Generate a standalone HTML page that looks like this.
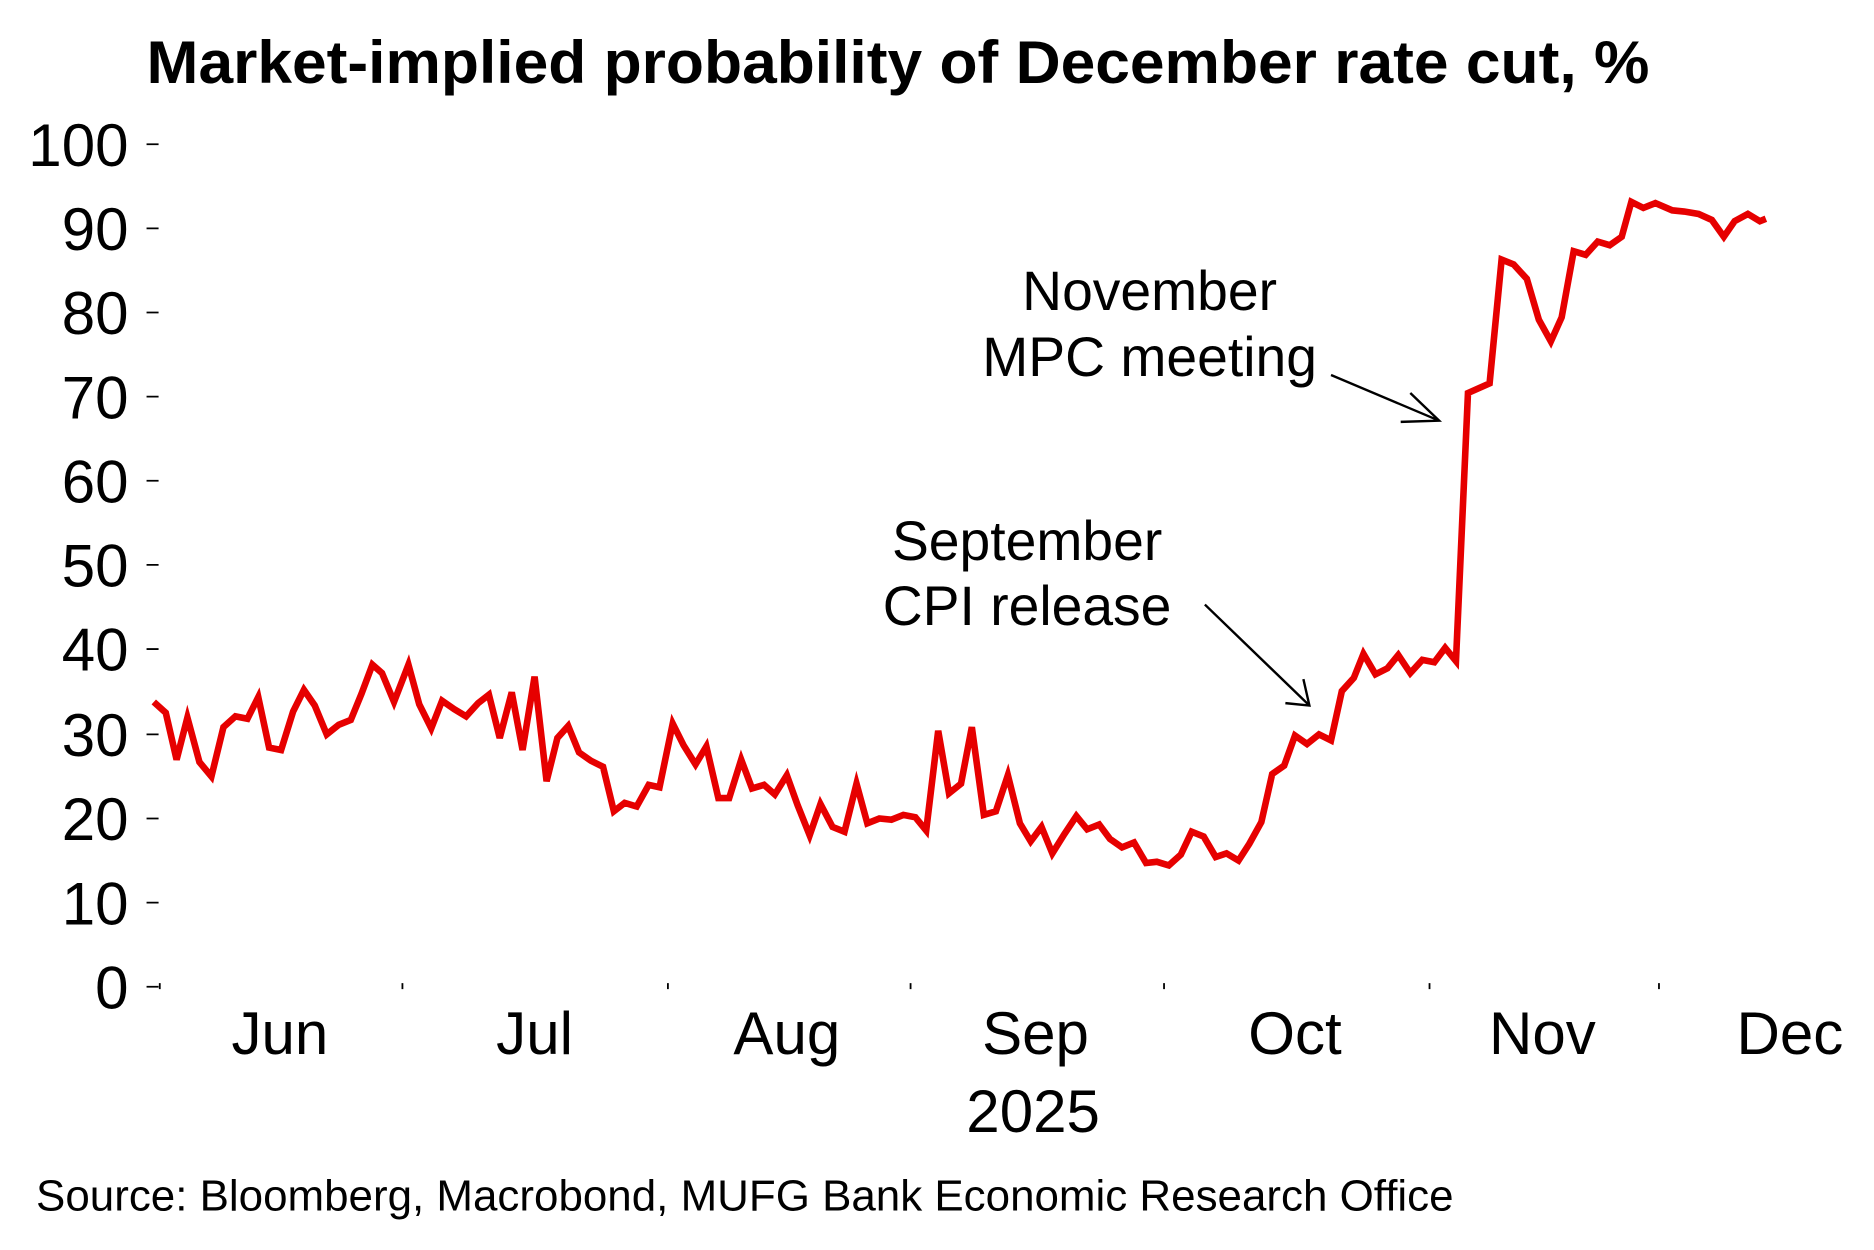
<!DOCTYPE html>
<html><head><style>html,body{margin:0;padding:0;background:#fff;}svg{display:block;}</style></head>
<body>
<svg width="1874" height="1250" viewBox="0 0 1560 1040" preserveAspectRatio="none" xmlns="http://www.w3.org/2000/svg" font-family="Liberation Sans, Arial, sans-serif">
<text x="122" y="69" font-size="50" font-weight="bold" textLength="1251" lengthAdjust="spacingAndGlyphs">Market-implied probability of December rate cut, %</text>
<g font-size="50" text-anchor="end">
<text x="107" y="138">100</text><text x="107" y="208">90</text><text x="107" y="278">80</text><text x="107" y="348">70</text><text x="107" y="418">60</text><text x="107" y="488">50</text><text x="107" y="558">40</text><text x="107" y="629">30</text><text x="107" y="699">20</text><text x="107" y="769">10</text><text x="107" y="839">0</text>
</g>
<g stroke="#000" stroke-width="1.5">
<path d="M122 120h10M122 190h10M122 260h10M122 330h10M122 400h10M122 470h10M122 540h10M122 611h10M122 681h10M122 751h10M122 821h10"/>
<path d="M133 818v5M335 818v5M556 818v5M758 818v5M969 818v5M1190 818v5M1381 818v5"/>
</g>
<g font-size="50" text-anchor="middle">
<text x="233" y="877">Jun</text><text x="445" y="877">Jul</text><text x="655" y="877">Aug</text><text x="862" y="877">Sep</text><text x="1078" y="877">Oct</text><text x="1284" y="877">Nov</text><text x="1490" y="877">Dec</text>
<text x="860" y="942">2025</text>
</g>
<text x="30" y="1007" font-size="36" textLength="1180" lengthAdjust="spacingAndGlyphs">Source: Bloomberg, Macrobond, MUFG Bank Economic Research Office</text>
<g font-size="46" text-anchor="middle">
<text x="957" y="258">November</text><text x="957" y="313">MPC meeting</text>
<text x="855" y="466">September</text><text x="855" y="520">CPI release</text>
</g>
<g stroke="#000" stroke-width="2" fill="none">
<path d="M1108 312L1198 350M1174 327L1198 350L1166 351"/>
<path d="M1003 503L1090 587M1070 585L1090 587L1085 565"/>
</g>
<polyline fill="none" stroke="#e60000" stroke-width="5.5" stroke-linejoin="miter" points="128,584 138,593 147,632 156,597 166,634 176,646 186,605 196,596 206,598 215,580 224,622 234,624 244,592 253,574 262,587 272,611 282,603 292,599 301,577 310,553 318,560 328,584 340,553 349,586 359,606 368,583 378,590 388,596 398,585 407,578 416,614 426,576 435,624 445,563 455,650 464,614 473,604 482,626 492,633 502,638 511,675 520,668 530,671 540,653 549,655 560,602 569,620 579,636 588,621 598,664 607,664 617,632 626,656 636,653 645,661 655,645 664,670 674,695 683,669 693,688 703,692 713,652 722,685 732,681 742,682 752,678 762,680 771,691 781,608 790,660 800,652 809,605 819,678 829,675 839,645 849,685 858,700 867,688 876,710 886,694 896,679 905,690 915,686 924,698 934,705 944,701 954,718 963,717 973,720 983,711 992,692 1002,696 1012,713 1021,710 1031,716 1040,702 1050,684 1059,644 1069,637 1078,612 1088,619 1098,611 1108,616 1117,575 1127,564 1135,544 1145,561 1155,556 1164,545 1174,560 1184,549 1194,551 1203,539 1212,550 1222,327 1240,319 1250,216 1260,220 1271,232 1281,266 1291,284 1300,264 1310,209 1320,212 1330,201 1340,204 1350,197 1358,168 1368,173 1378,169 1392,175 1402,176 1414,178 1425,183 1435,197 1444,184 1455,178 1465,184 1470,182"/>
</svg>
</body></html>
